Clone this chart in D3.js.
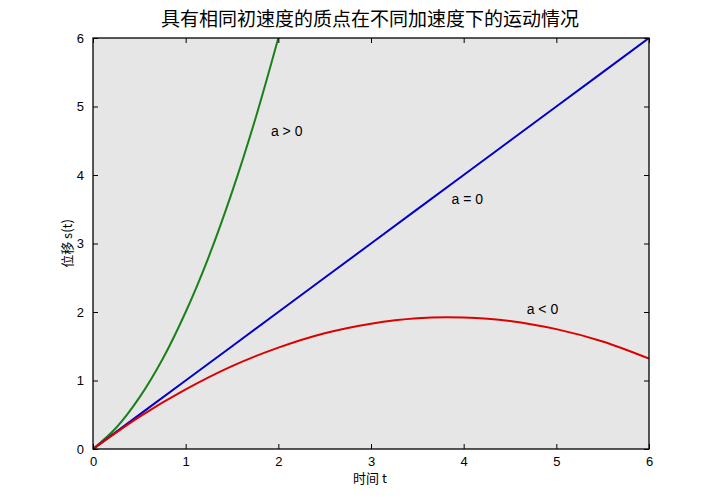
<!DOCTYPE html>
<html><head><meta charset="utf-8">
<script src="https://cdn.jsdelivr.net/npm/d3@7"></script>
<style>
body{margin:0;background:#fff;}
text{font-family:"Liberation Sans","DejaVu Sans",sans-serif;}
.cjk{font-family:"Noto Sans CJK SC",sans-serif;}
</style></head>
<body><svg id="c" width="717" height="504"></svg>
<script>
const title = "具有相同初速度的质点在不同加速度下的运动情况";
const xLabel = "时间 t";
const yLabel = "位移 s(t)";
const xTicks = [0,1,2,3,4,5,6];
const yTicks = [0,1,2,3,4,5,6];

const tGreen = [0,0.25,0.5,0.75,1,1.25,1.5,1.75,2];
const sGreen = [0,0.31,0.75,1.31,2.0,2.81,3.75,4.81,6.0];
const tBlue = [0,1,2,3,4,5,6];
const sBlue = [0,1,2,3,4,5,6];
const tRed = [0,0.5,1,1.5,2,2.5,3,3.5,4,4.5,5,5.5,6];
const sRed = [0,0.47,0.87,1.21,1.48,1.69,1.83,1.91,1.92,1.87,1.75,1.57,1.32];

const series = [
  {t:tGreen, s:sGreen, color:"#1a801a", label:"a > 0", lx:1.92, ly:4.57},
  {t:tBlue, s:sBlue, color:"#0000c8", label:"a = 0", lx:3.87, ly:3.58},
  {t:tRed, s:sRed, color:"#dd0000", label:"a < 0", lx:4.68, ly:1.97}
];

const svg = d3.select("#c");
const L=93, R=649, T=38, B=449;
const x = d3.scaleLinear().domain([0,6]).range([L,R]);
const y = d3.scaleLinear().domain([0,6]).range([B,T]);

svg.append("rect").attr("x",L).attr("y",T).attr("width",R-L).attr("height",B-T).attr("fill","#e6e6e6");

svg.append("defs").append("clipPath").attr("id","clip")
  .append("rect").attr("x",L).attr("y",T).attr("width",R-L).attr("height",B-T);

const line = d3.line().curve(d3.curveCatmullRom.alpha(0.5));
const g = svg.append("g").attr("clip-path","url(#clip)");
series.forEach(sr=>{
  g.append("path").attr("d", line(sr.t.map((t,i)=>[x(t), y(sr.s[i])])))
    .attr("fill","none").attr("stroke",sr.color).attr("stroke-width",2);
});
series.forEach(sr=>{
  svg.append("text").attr("x",x(sr.lx)).attr("y",y(sr.ly)).attr("font-size",14)
    .attr("fill","#000").text(sr.label);
});

const fmt = d3.format("d");
svg.append("g").attr("transform",`translate(0,${B})`)
  .call(d3.axisBottom(x).tickValues(xTicks).tickFormat(fmt).tickSizeInner(-5).tickSizeOuter(0).tickPadding(8))
  .call(a=>{a.select(".domain").remove(); a.selectAll("text").attr("font-size",13).attr("font-family","Liberation Sans");});
svg.append("g").attr("transform",`translate(0,${T})`)
  .call(d3.axisTop(x).tickValues(xTicks).tickFormat("").tickSizeInner(-5).tickSizeOuter(0))
  .call(a=>a.select(".domain").remove());
svg.append("g").attr("transform",`translate(${L},0)`)
  .call(d3.axisLeft(y).tickValues(yTicks).tickFormat(fmt).tickSizeInner(-5).tickSizeOuter(0).tickPadding(9))
  .call(a=>{a.select(".domain").remove(); a.selectAll("text").attr("font-size",13).attr("font-family","Liberation Sans");});
svg.append("g").attr("transform",`translate(${R},0)`)
  .call(d3.axisRight(y).tickValues(yTicks).tickFormat("").tickSizeInner(-5).tickSizeOuter(0))
  .call(a=>a.select(".domain").remove());
svg.append("rect").attr("x",L).attr("y",T).attr("width",R-L).attr("height",B-T)
  .attr("fill","none").attr("stroke","#000").attr("stroke-width",1.3);

svg.append("text").attr("class","cjk").attr("x",370).attr("y",26).attr("text-anchor","middle")
  .attr("font-size",19).attr("fill","#000").text(title);
svg.append("text").attr("class","cjk").attr("x",370).attr("y",483).attr("text-anchor","middle")
  .attr("font-size",13).attr("fill","#000").text(xLabel);
svg.append("text").attr("class","cjk").attr("transform",`translate(72,${(T+B)/2}) rotate(-90)`)
  .attr("text-anchor","middle").attr("font-size",13).attr("fill","#000").text(yLabel);
</script></body></html>
